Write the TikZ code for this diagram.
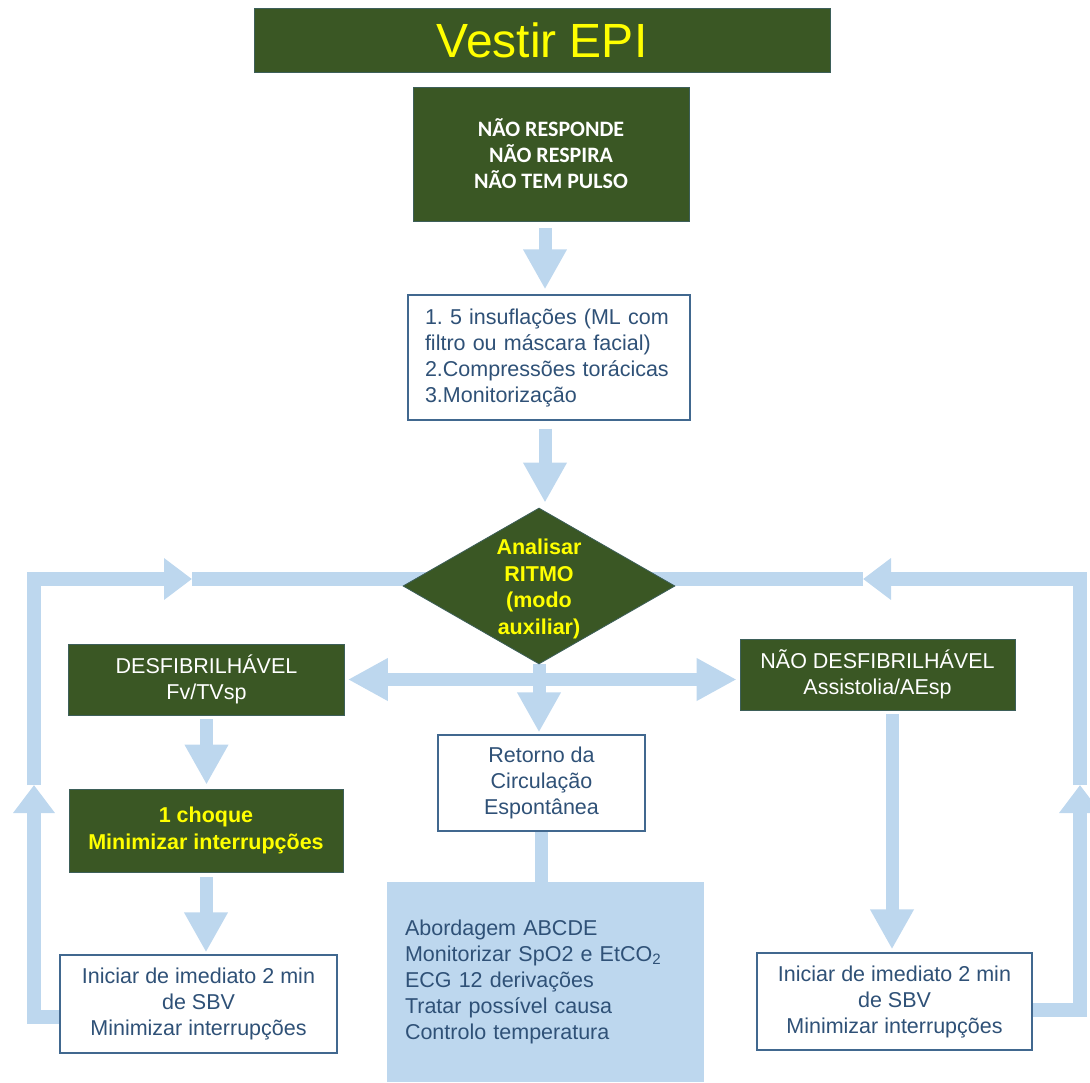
\documentclass[tikz,border=0pt]{standalone}
\usepackage{fontspec}
\setmainfont{Liberation Sans}
\newfontfamily\calibri{Carlito}
\usepackage{tikz}
\usetikzlibrary{shapes.geometric}
\usetikzlibrary{calc}
\usetikzlibrary{backgrounds}
\usetikzlibrary{positioning}
\usetikzlibrary{arrows.meta}
\definecolor{epigreen}{HTML}{3A5724}
\definecolor{flowblue}{HTML}{BDD7EE}
\definecolor{boxline}{HTML}{41688F}
\definecolor{textblue}{HTML}{2F5177}
\definecolor{signal}{HTML}{FFFF00}
\tikzset{greenbox/.style={rectangle, fill=epigreen, draw=boxline!50!epigreen, line width=0.8pt, inner sep=0pt, align=center}}
\tikzset{whitebox/.style={rectangle, fill=white, draw=boxline, line width=1.3pt, inner sep=0pt, text=textblue, align=center}}
\tikzset{body/.style={font=\fontsize{21.5}{26}\selectfont}}
\tikzset{bodybold/.style={font=\bfseries\fontsize{21.5}{26.5}\selectfont}}
\tikzset{flow/.style={draw=flowblue, line width=13pt, -{Triangle[length=40pt,width=41pt]}}}
\tikzset{twoway/.style={draw=flowblue, line width=13.5pt, {Triangle[length=40pt,width=40pt]}-{Triangle[length=40pt,width=40pt]}}}
\tikzset{loopflow/.style={draw=flowblue, line width=13.5pt, -{Triangle[length=28pt,width=40pt]}}}
\tikzset{bar/.style={draw=flowblue, line width=13.5pt}}
\frenchspacing

\begin{document}
\begin{tikzpicture}[x=1pt, y=-1pt]
		\useasboundingbox (0,0) rectangle (1090,1082);
		\node[greenbox, minimum width=576pt, minimum height=64pt, text=signal, font=\fontsize{48}{56}\selectfont] (epi) at (542,40) {Vestir EPI};
		\node[greenbox, minimum width=276pt, minimum height=134pt, text=white, font=\calibri\bfseries\fontsize{22}{26}\selectfont] (resp) at (551,154) {NÃO RESPONDE\\NÃO RESPIRA\\NÃO TEM PULSO};
		\node[whitebox, body, minimum width=282pt, minimum height=125pt, text width=248pt, align=left] (acts) at (549,357.5) {1. 5 insuflações (ML com\\filtro ou máscara facial)\\2.Compressões torácicas\\3.Monitorização};
		\node[diamond, aspect=1.74, fill=epigreen, draw=boxline!50!epigreen, line width=0.8pt, minimum width=272pt, minimum height=156pt, inner sep=0pt, text=signal, bodybold, align=center] (ritmo) at (539,586) {\rule{0pt}{21.7pt}Analisar\\RITMO\\(modo\\auxiliar)};
		\node[greenbox, body, text=white, minimum width=276pt, minimum height=71pt] (desf) at (206.5,679.5) {DESFIBRILHÁVEL\\Fv/TVsp};
		\node[greenbox, body, text=white, minimum width=275pt, minimum height=71pt] (naodesf) at (877.5,674.5) {NÃO DESFIBRILHÁVEL\\Assistolia/AEsp};
		\node[whitebox, body, minimum width=207pt, minimum height=96pt] (rce) at (541.5,783) {Retorno da\\Circulação\\Espontânea};
		\node[greenbox, bodybold, text=signal, minimum width=274pt, minimum height=83pt] (choque) at (206,830.5) {1 choque\\Minimizar interrupções};
		\node[whitebox, body, minimum width=277pt, minimum height=98pt] (sbvl) at (198.5,1004) {Iniciar de imediato 2 min\\de SBV\\Minimizar interrupções};
		\node[whitebox, body, minimum width=275pt, minimum height=97pt] (sbvr) at (894.5,1001.5) {Iniciar de imediato 2 min\\de SBV\\Minimizar interrupções};
		\node[rectangle, fill=flowblue, body, text=textblue, minimum width=317pt, minimum height=200pt, text width=281pt, align=left, inner sep=0pt] (posrce) at (545.5,982) {Abordagem ABCDE\\Monitorizar SpO2 e EtCO\textsubscript{2}\\ECG 12 derivações\\Tratar possível causa\\Controlo temperatura};
		\coordinate (lup) at (34,785);
		\coordinate (lfwd) at (192,579);
		\coordinate (rup) at (1080,785);
		\coordinate (rfwd) at (863,579);
		\begin{scope}[on background layer]
			\draw [flow, shorten <=7pt, shorten >=5pt] ([xshift=-6pt]resp.south) -- ([xshift=-4pt]acts.north);
			\draw [flow, shorten <=8pt, shorten >=5pt] ([xshift=-4pt]acts.south) -- ([xshift=6pt]ritmo.north);
			\draw [twoway, shorten <=3pt, shorten >=3pt] (desf.east) -- (desf.east -| naodesf.west);
			\draw [flow, shorten >=2pt] (ritmo.south) -- (ritmo.south |- rce.north);
			\draw [bar] (rce.south) -- (rce.south |- posrce.north);
			\draw [flow, shorten <=4pt, shorten >=4pt] (desf.south) -- (desf.south |- choque.north);
			\draw [flow, shorten <=5pt, shorten >=2pt] (choque.south) -- (choque.south |- sbvl.north);
			\draw [flow, shorten <=4pt, shorten >=3pt] ([xshift=14.5pt]naodesf.south) -- ([xshift=14.5pt]naodesf.south |- sbvr.north);
			\draw [loopflow] ([yshift=-13pt]sbvl.west) -| (lup);
			\draw [loopflow] (lup) |- (lfwd);
			\draw [bar] (lfwd) -- (ritmo.center |- lfwd);
			\draw [loopflow] ([yshift=-8.5pt]sbvr.east) -| (rup);
			\draw [loopflow] (rup) |- (rfwd);
			\draw [bar] (rfwd) -- (ritmo.center |- rfwd);
		\end{scope}
	\end{tikzpicture}
\end{document}
